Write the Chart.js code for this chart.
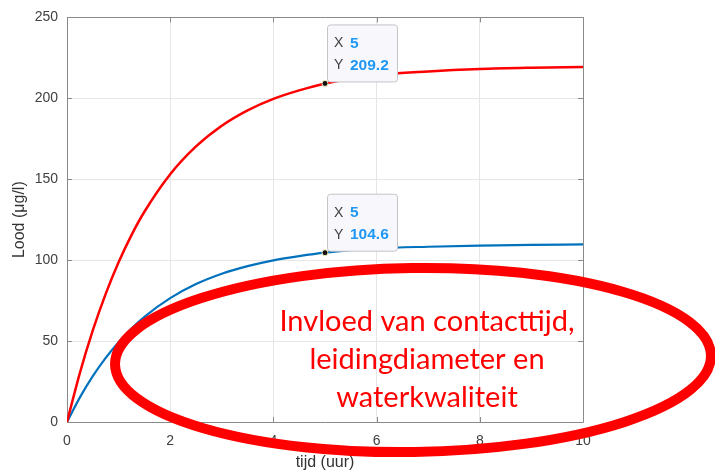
<!DOCTYPE html>
<html><head><meta charset="utf-8">
<script src="https://cdn.jsdelivr.net/npm/chart.js@4.4.1/dist/chart.umd.min.js"></script>
<style>html,body{margin:0;padding:0;background:#fff}canvas{display:block}</style>
</head><body>
<canvas id="c" width="715" height="472"></canvas>
<script>
// ---- data ----
const tijd      = [0, 0.25, 0.5, 0.75, 1, 1.25, 1.5, 2, 2.5, 3, 3.5, 4, 4.5, 5, 6, 7, 8, 9, 10];
const loodHoog  = [0, 30.4, 56.6, 79.2, 98.7, 115.5, 129.9, 153.1, 170.3, 183.1, 192.6, 199.7, 204.9, 209.2, 214.3, 216.6, 218.1, 218.9, 219.4];
const loodLaag  = [0, 15.2, 28.3, 39.6, 49.3, 57.8, 65.0, 76.5, 85.2, 91.6, 96.3, 99.9, 102.5, 104.6, 107.2, 108.3, 109.0, 109.5, 109.7];
const tipX      = [5, 5];
const tipY      = [209.2, 104.6];
const xTicks    = [0, 2, 4, 6, 8, 10];
const yTicks    = [0, 50, 100, 150, 200, 250];
const xLabel    = 'tijd (uur)';
const yLabel    = 'Lood (μg/l)';
const noteLines = ['Invloed van contacttijd,', 'leidingdiameter en', 'waterkwaliteit'];

const FONT = '"Liberation Sans", Arial, Helvetica, sans-serif';
const pts = (xs, ys) => xs.map((x, i) => ({x: x, y: ys[i]}));

const overlay = {
  id: 'overlay',
  beforeDatasetsDraw(chart) {
    const {ctx, chartArea: a, scales: {x, y}} = chart;
    ctx.save();
    ctx.strokeStyle = '#8a8a8a';
    ctx.lineWidth = 1;
    ctx.beginPath();
    ctx.rect(Math.round(a.left) + 0.5, Math.round(a.top) + 0.5, Math.round(a.right - a.left), Math.round(a.bottom - a.top));
    ctx.stroke();
    const tl = 5;
    ctx.beginPath();
    xTicks.forEach(v => {
      const p = Math.round(x.getPixelForValue(v)) + 0.5;
      ctx.moveTo(p, a.bottom); ctx.lineTo(p, a.bottom - tl);
      ctx.moveTo(p, a.top); ctx.lineTo(p, a.top + tl);
    });
    yTicks.forEach(v => {
      const p = Math.round(y.getPixelForValue(v)) + 0.5;
      ctx.moveTo(a.left, p); ctx.lineTo(a.left + tl, p);
      ctx.moveTo(a.right, p); ctx.lineTo(a.right - tl, p);
    });
    ctx.stroke();
    ctx.restore();
  },
  afterDatasetsDraw(chart) {
    const {ctx, scales: {x, y}} = chart;
    ctx.save();
    tipX.forEach((tx, i) => {
      const px = x.getPixelForValue(tx), py = y.getPixelForValue(tipY[i]);
      const bx = px + 2, by = py - 59, bw = 70, bh = 57;
      ctx.beginPath();
      ctx.roundRect(bx + 0.5, by + 0.5, bw, bh, 3);
      ctx.fillStyle = '#f8f8fc';
      ctx.fill();
      ctx.strokeStyle = '#c4c4c8';
      ctx.lineWidth = 1;
      ctx.stroke();
      ctx.textBaseline = 'middle';
      ctx.textAlign = 'left';
      ctx.fillStyle = '#404040';
      ctx.font = '14px ' + FONT;
      ctx.fillText('X', px + 9, py - 40);
      ctx.fillText('Y', px + 9, py - 18);
      ctx.fillStyle = '#1f97f5';
      ctx.font = 'bold 15.5px ' + FONT;
      ctx.fillText(String(tx), px + 25, py - 40);
      ctx.fillText(tipY[i].toFixed(1), px + 25, py - 18);
      // marker
      ctx.beginPath();
      ctx.arc(px, py, 3, 0, Math.PI * 2);
      ctx.fillStyle = '#111';
      ctx.fill();
      ctx.strokeStyle = '#f3efc0';
      ctx.lineWidth = 1;
      ctx.stroke();
    });
    ctx.restore();
  },
  afterDraw(chart) {
    const {ctx} = chart;
    ctx.save();
    ctx.beginPath();
    ctx.ellipse(413, 360, 298, 92, -0.015, 0, Math.PI * 2);
    ctx.strokeStyle = '#ff0000';
    ctx.lineWidth = 10;
    ctx.stroke();
    ctx.fillStyle = '#ff0000';
    ctx.font = '29px Lato, "Open Sans", sans-serif';
    ctx.textAlign = 'center';
    ctx.textBaseline = 'alphabetic';
    const base = [331, 369, 407];
    noteLines.forEach((t, i) => ctx.fillText(t, 427, base[i]));
    ctx.restore();
  }
};

new Chart(document.getElementById('c'), {
  type: 'scatter',
  data: {
    datasets: [
      {data: pts(tijd, loodHoog), showLine: true, borderColor: '#ff0000', borderWidth: 2.5, pointRadius: 0, cubicInterpolationMode: 'monotone'},
      {data: pts(tijd, loodLaag), showLine: true, borderColor: '#0072bd', borderWidth: 2.2, pointRadius: 0, cubicInterpolationMode: 'monotone'}
    ]
  },
  options: {
    responsive: false,
    animation: false,
    events: [],
    layout: {padding: {left: 0, right: 132, top: 16, bottom: 0}},
    plugins: {legend: {display: false}, tooltip: {enabled: false}},
    scales: {
      x: {
        type: 'linear', min: 0, max: 10,
        afterBuildTicks: s => { s.ticks = xTicks.map(v => ({value: v})); },
        afterFit: s => { s.height = 50; },
        grid: {color: '#e6e6e6', drawTicks: false},
        border: {display: false},
        ticks: {padding: 11, color: '#404040', font: {family: FONT, size: 14}},
        title: {display: true, text: xLabel, color: '#333', font: {family: FONT, size: 16}, padding: {top: 0, bottom: 0}}
      },
      y: {
        type: 'linear', min: 0, max: 250,
        afterBuildTicks: s => { s.ticks = yTicks.map(v => ({value: v})); },
        afterFit: s => { s.width = 67; },
        grid: {color: '#e6e6e6', drawTicks: false},
        border: {display: false},
        ticks: {padding: 9, color: '#404040', font: {family: FONT, size: 14}},
        title: {display: true, text: yLabel, color: '#333', font: {family: FONT, size: 16}, padding: {top: 10, bottom: 0}}
      }
    }
  },
  plugins: [overlay]
});
</script>
</body></html>
